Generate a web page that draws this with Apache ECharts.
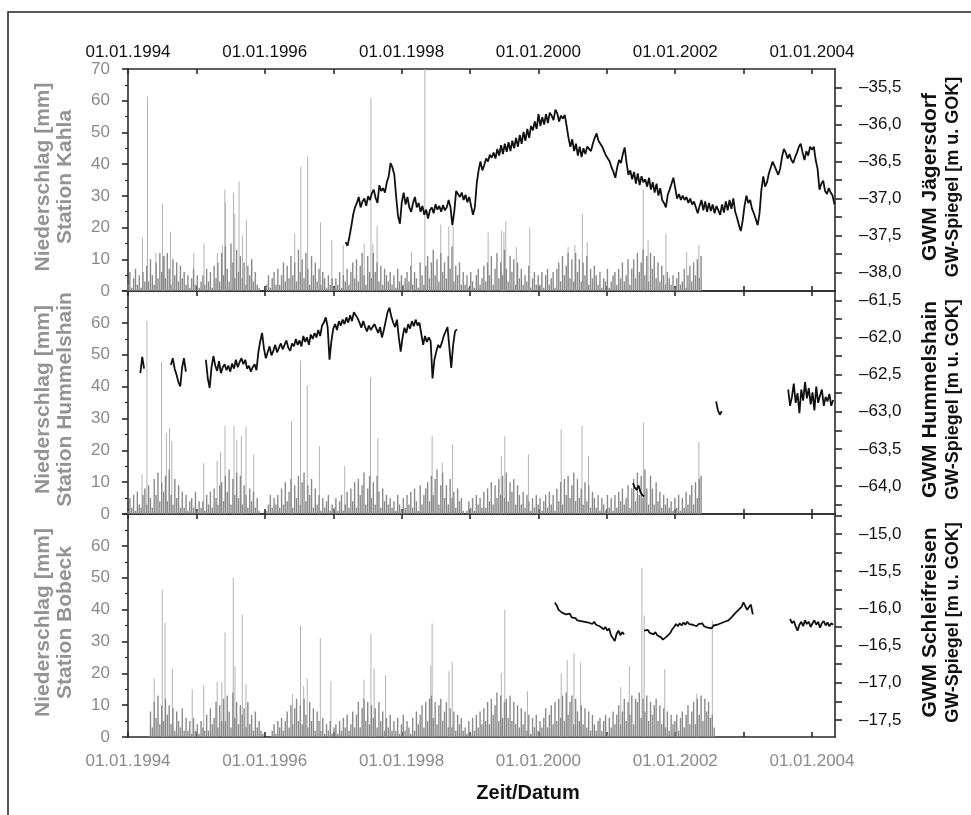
<!doctype html>
<html>
<head>
<meta charset="UTF-8">
<title>Niederschlag und GW-Spiegel</title>
<script src="https://cdn.jsdelivr.net/npm/echarts@6.0.0/dist/echarts.min.js"></script>
<style>
html, body { margin: 0; padding: 0; background: #fff; }
#chart { width: 971px; height: 815px; }
</style>
</head>
<body>
<div id="chart"></div>
<script>
// ---- Daten ----
var STEP_DAYS = 10; // Raster der Reihen: alle 10 Tage ein Wert

var tickYears = [1994, 1995, 1996, 1997, 1998, 1999, 2000, 2001, 2002, 2003, 2004];
var labelYears = [1994, 1996, 1998, 2000, 2002, 2004];

// Niederschlag Station Kahla [mm], ab 01.01.1994
var kahlaStart = '1994-01-01';
var kahlaRain = [
  2,6,1,4,7,2,5,1,6,3, 8,3,10,5,2,9,4,12,6,11, 4,12,7,2,10,5,9,3,8,4, 6,2,5,1,4,7,2,5,1,3,
  5,2,7,3,6,1,8,4,9,3, 12,5,14,7,3,15,9,4,13,6, 11,4,9,2,8,5,10,3,6,2, 1,0,0,0,2,5,1,4,6,2,
  7,2,5,9,3,8,4,11,5,9, 3,13,6,10,4,12,7,2,11,5, 9,3,7,2,6,4,1,5,2,4, 1,4,2,6,1,5,3,7,2,6,
  9,4,10,3,8,12,5,2,11,6, 4,12,6,9,3,8,2,7,5,3, 6,2,5,1,7,3,5,2,4,6, 3,8,2,6,4,1,9,5,2,8,
  11,4,9,13,5,10,3,12,6,9, 4,11,7,14,3,8,5,9,2,6, 2,5,1,6,3,1,5,7,2,4, 8,3,9,5,11,2,7,12,4,9,
  5,13,7,3,11,6,10,2,9,4, 7,2,5,3,8,1,4,6,2,5, 2,6,1,5,7,2,4,6,1,7, 9,3,11,5,8,12,4,10,3,12,
  6,10,3,9,5,11,2,7,4,8, 5,2,6,1,4,3,7,1,3,5, 6,2,7,4,9,3,5,10,2,7, 10,4,12,6,9,13,5,11,3,12,
  7,11,4,9,3,8,5,2,6,4, 2,5,1,4,6,2,3,7,1,5, 8,3,9,5,10,4,11
];
var kahlaPeaks = [
  ['1994-03-19', 16.7], ['1994-04-15', 61.3], ['1994-05-30', 12], ['1994-07-04', 27.5],
  ['1994-07-16', 11], ['1994-08-16', 18.7], ['1994-12-18', 12], ['1995-02-11', 15],
  ['1995-04-23', 12], ['1995-05-20', 14.5], ['1995-06-02', 32], ['1995-06-06', 28],
  ['1995-07-18', 31], ['1995-07-25', 24.3], ['1995-08-17', 34.5], ['1995-09-04', 17.5],
  ['1995-09-25', 22.5], ['1995-10-24', 10], ['1996-06-09', 18], ['1996-07-12', 39.2],
  ['1996-08-17', 42.5], ['1996-10-25', 21.7], ['1996-12-24', 16], ['1997-02-23', 14.5],
  ['1997-06-15', 14.8], ['1997-07-21', 60.9], ['1997-07-31', 15], ['1997-08-23', 20.6],
  ['1998-02-23', 12.4], ['1998-05-05', 75], ['1998-07-29', 21], ['1998-09-10', 20.3],
  ['1998-10-03', 20.6], ['1999-04-08', 18.5], ['1999-06-18', 19], ['1999-07-01', 18.5],
  ['1999-07-11', 21.9], ['1999-09-06', 13.8], ['1999-11-16', 20], ['2000-06-08', 13.8],
  ['2000-07-14', 14.5], ['2000-08-23', 24.3], ['2000-09-18', 15.4], ['2001-07-14', 32.2],
  ['2001-08-09', 15.9], ['2001-11-12', 18], ['2002-03-03', 12.2], ['2002-05-07', 14.5]
];

// Niederschlag Station Hummelshain [mm], ab 01.01.1994
var hummelStart = '1994-01-01';
var hummelRain = [
  1,5,2,6,1,7,3,2,6,8, 3,9,5,2,11,6,13,4,10,7, 12,4,14,6,3,11,5,9,2,7, 2,6,1,4,5,2,7,1,4,2,
  4,1,6,3,7,2,8,5,3,9, 10,4,12,7,14,3,11,6,13,5, 12,3,9,6,2,8,4,7,2,5, 1,0,0,0,1,3,6,2,5,3,
  6,2,8,3,10,4,7,11,2,9, 5,12,3,10,13,4,9,6,11,2, 8,3,6,1,5,2,4,6,1,3, 2,5,1,4,6,1,3,7,2,8,
  4,10,2,11,6,9,13,3,8,12, 5,10,3,12,7,2,8,4,6,3, 5,2,4,1,6,3,1,5,2,6, 3,7,2,8,4,1,9,3,6,8,
  10,4,12,6,11,14,3,9,13,5, 9,3,11,5,7,2,8,4,5,1, 0,1,4,2,5,1,6,3,5,2, 7,2,8,4,10,3,9,5,11,6,
  12,5,13,4,10,7,11,3,9,6, 3,7,2,6,4,1,5,2,6,3, 5,1,4,6,2,7,3,6,1,8, 4,10,3,11,6,12,5,9,13,4,
  11,5,8,3,10,4,9,2,7,5, 2,6,1,5,3,1,6,2,5,1, 6,2,7,4,8,3,5,9,2,8, 11,4,13,6,12,5,14,8,3,12,
  8,3,10,4,7,2,6,3,5,2, 4,1,5,2,6,1,5,2,7,3, 6,9,3,10,5,11,12
];
var hummelPeaks = [
  ['1994-03-17', 12.5], ['1994-04-12', 60.6], ['1994-06-29', 47.7], ['1994-07-25', 25.4],
  ['1994-08-11', 27], ['1994-08-23', 22.9], ['1995-02-09', 16], ['1995-04-22', 16.7],
  ['1995-05-10', 19.4], ['1995-06-03', 27.7], ['1995-07-21', 27.7], ['1995-08-05', 23.4],
  ['1995-08-29', 24.4], ['1995-09-23', 27.5], ['1995-11-03', 18.7], ['1996-05-23', 29.1],
  ['1996-07-10', 48.2], ['1996-08-15', 40.4], ['1996-10-19', 21.3], ['1997-03-03', 15.1],
  ['1997-07-19', 43], ['1997-08-27', 23.9], ['1998-06-13', 24.6], ['1998-08-06', 16.1],
  ['1998-09-30', 21.8], ['1999-06-17', 18.2], ['1999-07-06', 24.4], ['1999-11-09', 18.7],
  ['2000-05-02', 26.7], ['2000-08-21', 27.7], ['2000-09-25', 18.2], ['2001-07-15', 28.6],
  ['2002-05-07', 22.6]
];

// Niederschlag Station Bobeck [mm], ab 01.05.1994
var bobeckStart = '1994-05-01';
var bobeckRain = [
  8,3,11,6,13,4,10,5,12,7, 10,4,9,2,8,5,3,9,2,6, 2,5,1,6,2,4,1,5,3,2, 7,2,9,4,6,11,3,10,5,12,
  5,13,8,3,14,6,11,4,10,7, 9,3,11,4,7,2,8,3,5,2, 1,0,0,0,0,2,4,1,5,3, 6,2,5,8,3,10,4,9,12,5,
  10,4,12,7,3,11,5,9,2,8, 5,2,6,1,4,2,5,1,3,4, 1,5,2,6,3,7,2,4,8,3, 7,11,3,9,12,5,11,4,10,6,
  9,3,11,5,8,2,6,3,7,2, 5,2,6,1,4,7,2,5,3,1, 6,2,8,4,7,10,3,11,5,12, 13,6,11,4,10,12,5,8,11,3,
  9,3,8,2,7,4,6,2,3,1, 5,1,6,2,7,3,8,4,9,5, 11,4,12,7,10,14,5,13,6,11, 12,6,13,5,11,4,10,3,9,4,
  8,2,7,1,6,3,7,2,5,3, 6,9,3,7,10,4,11,5,12,6, 13,5,14,7,11,13,4,12,8,5, 10,4,9,3,8,2,7,4,2,5,
  6,2,5,7,1,6,3,8,4,7, 10,4,8,12,5,11,7,13,4,12, 11,14,6,12,8,13,5,11,7,10, 12,5,10,4,9,3,8,2,7,4,
  5,7,2,6,8,3,7,10,4,8, 11,4,12,7,13,5,12,8,11,6, 7,3
];
var bobeckPeaks = [
  ['1994-05-21', 18.4], ['1994-07-03', 46.2], ['1994-07-18', 35.9], ['1994-08-26', 21.2],
  ['1994-12-10', 15], ['1995-02-09', 16.2], ['1995-04-22', 17.3], ['1995-05-17', 17.2],
  ['1995-06-03', 32.8], ['1995-07-17', 50], ['1995-07-26', 22.2], ['1995-09-03', 38.4],
  ['1995-09-23', 16.5], ['1996-05-28', 13.4], ['1996-07-10', 35], ['1996-07-27', 16],
  ['1996-08-15', 18.4], ['1996-10-24', 31.1], ['1996-12-19', 17.5], ['1997-06-14', 18],
  ['1997-07-21', 32.4], ['1997-08-07', 21.6], ['1997-10-07', 19.4], ['1998-06-06', 22.5],
  ['1998-06-13', 35.6], ['1998-09-11', 20.6], ['1998-09-28', 23.7], ['1999-06-17', 20.1],
  ['1999-07-06', 40], ['1999-11-04', 14.4], ['2000-05-02', 19.9], ['2000-06-03', 24.2],
  ['2000-07-09', 26.3], ['2000-08-14', 23.4], ['2001-03-16', 15.7], ['2001-05-01', 22.2],
  ['2001-07-07', 53.1], ['2001-07-19', 38.1], ['2001-11-06', 21.3], ['2002-04-26', 13.6],
  ['2002-07-18', 36.6]
];

// GW-Spiegel [m u. GOK], Abschnitte: [Startdatum, Werte im 10-Tage-Raster]
var jaegSegs = [
  ['1997-03-08', [
    -37.59,-37.64,-37.52,-37.38,-37.22,-37.12,-37.06,-36.98,-37.12,-37.04,
    -37.00,-37.10,-36.97,-37.02,-36.93,-36.88,-36.99,-37.06,-36.82,-36.90,
    -36.86,-36.92,-36.78,-36.70,-36.52,-36.58,-36.68,-36.98,-37.24,-37.34,
    -37.05,-36.92,-37.08,-36.98,-37.12,-37.18,-37.06,-36.98,-37.12,-37.06,
    -37.18,-37.10,-37.22,-37.15,-37.27,-37.16,-37.12,-37.20,-37.08,-37.15,
    -37.10,-37.18,-37.09,-37.16,-37.12,-37.02,-37.12,-37.36,-37.18,-36.90,
    -36.88,-36.98,-36.92,-37.02,-36.95,-37.05,-36.98,-37.10,-37.22,-37.12,
    -36.80,-36.62,-36.50,-36.62,-36.55,-36.46,-36.50,-36.41,-36.45,-36.38,
    -36.46,-36.33,-36.42,-36.28,-36.40,-36.26,-36.37,-36.24,-36.36,-36.22,
    -36.32,-36.18,-36.30,-36.14,-36.26,-36.10,-36.22,-36.06,-36.18,-36.02,
    -36.08,-35.96,-36.06,-35.86,-36.02,-35.90,-36.00,-35.86,-35.98,-35.84,
    -35.88,-35.94,-35.80,-35.85,-35.96,-35.88,-35.92,-35.87,-36.02,-36.18,
    -36.30,-36.20,-36.36,-36.26,-36.42,-36.30,-36.44,-36.32,-36.40,-36.30,
    -36.30,-36.36,-36.26,-36.18,-36.12,-36.22,-36.26,-36.30,-36.36,-36.42,
    -36.44,-36.50,-36.58,-36.64,-36.72,-36.58,-36.48,-36.52,-36.40,-36.31,
    -36.52,-36.68,-36.62,-36.74,-36.64,-36.80,-36.66,-36.82,-36.70,-36.78,
    -36.74,-36.84,-36.72,-36.88,-36.78,-36.92,-36.80,-36.96,-36.86,-37.02,
    -37.06,-37.12,-36.95,-36.88,-36.80,-36.72,-36.86,-37.00,-36.94,-37.02,
    -36.96,-37.02,-36.98,-37.06,-37.00,-37.08,-37.04,-37.12,-37.20,-37.10,
    -37.02,-37.16,-37.04,-37.18,-37.06,-37.17,-37.08,-37.20,-37.10,-37.16,
    -37.22,-37.08,-37.19,-37.04,-37.16,-37.02,-37.14,-37.00,-37.18,-37.26,
    -37.36,-37.44,-37.30,-37.10,-36.96,-37.06,-37.02,-37.14,-37.20,-37.28,
    -37.36,-37.20,-36.88,-36.70,-36.84,-36.78,-36.66,-36.58,-36.50,-36.56,
    -36.62,-36.68,-36.60,-36.44,-36.33,-36.38,-36.46,-36.40,-36.48,-36.52,
    -36.44,-36.38,-36.30,-36.26,-36.38,-36.48,-36.36,-36.42,-36.30,-36.34,
    -36.30,-36.48,-36.60,-36.88,-36.80,-36.76,-36.90,-36.94,-36.86,-36.92,
    -36.96,-37.08
  ]]
];
var hummelSegs = [
  ['1994-03-08', [-62.48,-62.26,-62.42]],
  ['1994-08-18', [-62.37,-62.28,-62.42,-62.50,-62.60,-62.66,-62.40,-62.28,-62.46]],
  ['1995-02-21', [
    -62.30,-62.55,-62.68,-62.40,-62.25,-62.38,-62.45,-62.32,-62.48,-62.40,
    -62.36,-62.44,-62.38,-62.46,-62.35,-62.42,-62.30,-62.40,-62.33,-62.28,
    -62.36,-62.30,-62.42,-62.38,-62.46,-62.40,-62.36,-62.44,-62.20,-62.05,
    -61.94,-62.15,-62.28,-62.20,-62.12,-62.24,-62.18,-62.10,-62.20,-62.14,
    -62.08,-62.16,-62.10,-62.04,-62.14,-62.18,-62.08,-62.12,-62.02,-62.10,
    -62.04,-62.12,-61.98,-62.06,-62.00,-62.10,-61.96,-62.02,-61.94,-62.00,
    -61.90,-61.98,-61.84,-61.80,-61.73,-61.86,-62.30,-62.05,-61.88,-61.82,
    -61.90,-61.78,-61.84,-61.76,-61.82,-61.73,-61.80,-61.70,-61.78,-61.66,
    -61.65,-61.74,-61.80,-61.87,-61.78,-61.86,-61.92,-61.84,-61.90,-61.86,
    -61.82,-61.88,-61.94,-61.86,-62.00,-61.90,-61.78,-61.66,-61.60,-61.72,
    -61.80,-61.86,-61.76,-62.00,-62.19,-62.00,-61.87,-61.94,-61.82,-61.88,
    -61.78,-61.85,-61.76,-61.84,-61.80,-61.95,-62.10,-61.98,-62.06,-62.00,
    -62.05,-62.55,-62.30,-62.19,-62.10,-62.14,-62.07,-61.98,-61.92,-61.86,
    -61.85,-62.41,-62.10,-61.92,-61.89
  ]],
  ['2001-05-20', [-63.96,-64.02,-64.05,-63.99,-64.08,-64.12,-64.14]],
  ['2002-08-07', [-62.86,-62.98,-63.04,-62.99]],
  ['2003-08-27', [
    -62.70,-62.92,-62.80,-62.62,-62.88,-62.75,-63.02,-62.70,-62.85,-62.60,
    -62.82,-62.68,-62.90,-62.74,-62.98,-62.66,-62.88,-62.78,-62.70,-62.92,
    -62.80,-62.86,-62.76,-62.92,-62.84
  ]]
];
var schleifSegs = [
  ['2000-03-29', [
    -15.92,-15.96,-16.02,-16.04,-16.06,-16.05,-16.08,-16.10,-16.07,-16.12,
    -16.10,-16.13,-16.16,-16.14,-16.17,-16.15,-16.18,-16.16,-16.19,-16.17,
    -16.21,-16.18,-16.22,-16.20,-16.24,-16.22,-16.28,-16.25,-16.30,-16.27,
    -16.36,-16.40,-16.44,-16.34,-16.30,-16.36,-16.32,-16.35
  ]],
  ['2001-07-19', [
    -16.30,-16.32,-16.29,-16.33,-16.31,-16.35,-16.32,-16.36,-16.34,-16.39,
    -16.42,-16.44,-16.38,-16.40,-16.33,-16.28,-16.25,-16.21,-16.24,-16.20,
    -16.23,-16.19,-16.22,-16.18,-16.21,-16.19,-16.22,-16.20,-16.24,-16.21,
    -16.23,-16.20,-16.24,-16.22,-16.26,-16.24,-16.27,-16.23,-16.25,-16.22,
    -16.24,-16.20,-16.22,-16.18,-16.20,-16.16,-16.14,-16.11,-16.08,-16.06,
    -16.03,-16.05,-15.98,-15.92,-15.97,-16.02,-15.98,-15.95,-16.08
  ]],
  ['2003-09-06', [
    -16.14,-16.20,-16.17,-16.24,-16.30,-16.22,-16.18,-16.24,-16.16,-16.21,
    -16.18,-16.25,-16.20,-16.16,-16.22,-16.18,-16.26,-16.20,-16.17,-16.23,
    -16.19,-16.24,-16.20,-16.22
  ]]
];

// Achsbeschriftungen rechts
var jaegLabels = [-38.0, -37.5, -37.0, -36.5, -36.0, -35.5];
var hummelLabels = [-64.0, -63.5, -63.0, -62.5, -62.0, -61.5];
var schleifLabels = [-17.5, -17.0, -16.5, -16.0, -15.5, -15.0];

// ---- Hilfsfunktionen ----
var DAY = 86400000;
function ts(s) {
  var p = s.split('-');
  return Date.UTC(+p[0], +p[1] - 1, +p[2]);
}
function stepSeries(start, values) {
  var t0 = ts(start);
  return values.map(function (v, i) { return [t0 + i * STEP_DAYS * DAY, v]; });
}
function segSeries(segs) {
  var out = [];
  segs.forEach(function (s, j) {
    if (j > 0) out.push([ts(s[0]) - DAY, '-']); // Luecke
    out = out.concat(stepSeries(s[0], s[1]));
  });
  return out;
}
function peakSeries(list) {
  return list.map(function (p) { return [ts(p[0]), p[1]]; });
}
function withQuarters(labels, lo, hi) {
  var out = [];
  labels.forEach(function (v) {
    [v - 0.25, v, v + 0.25].forEach(function (t) {
      if (t > lo && t < hi && out.indexOf(t) < 0) out.push(t);
    });
  });
  return out;
}
function fmtGw(v) {
  return '\u2013' + Math.abs(v).toFixed(1).replace('.', ',');
}
function fmtDate(v) {
  return '01.01.' + new Date(v).getUTCFullYear();
}

var X_MIN = ts('1994-01-01');
var X_MAX = ts('2004-05-03');
var yearTickValues = tickYears.map(function (y) { return Date.UTC(y, 0, 1); });
var yearLabelValues = labelYears.map(function (y) { return Date.UTC(y, 0, 1); });

var FONT = 'Liberation Sans';
var AXIS_COLOR = '#2a2a2a';
var GRAY_TEXT = '#8a8a8a';

var panels = [
  { top: 69, height: 222, rain: stepSeries(kahlaStart, kahlaRain), peaks: peakSeries(kahlaPeaks),
    gw: segSeries(jaegSegs), gwMin: -38.25, gwMax: -35.25, gwLabels: jaegLabels,
    left1: 'Niederschlag [mm]', left2: 'Station Kahla', right1: 'GWM J\u00e4gersdorf' },
  { top: 291, height: 223, rain: stepSeries(hummelStart, hummelRain), peaks: peakSeries(hummelPeaks),
    gw: segSeries(hummelSegs), gwMin: -64.375, gwMax: -61.375, gwLabels: hummelLabels,
    left1: 'Niederschlag [mm]', left2: 'Station Hummelshain', right1: 'GWM Hummelshain' },
  { top: 514, height: 223, rain: stepSeries(bobeckStart, bobeckRain), peaks: peakSeries(bobeckPeaks),
    gw: segSeries(schleifSegs), gwMin: -17.73, gwMax: -14.73, gwLabels: schleifLabels,
    left1: 'Niederschlag [mm]', left2: 'Station Bobeck', right1: 'GWM Schleifreisen' }
];

var grids = [], xAxes = [], yAxes = [], series = [], graphics = [];

graphics.push({
  type: 'rect', silent: true,
  shape: { x: 8, y: 12, width: 1000, height: 900 },
  style: { fill: 'none', stroke: '#222', lineWidth: 1.5 }
});

panels.forEach(function (p, k) {
  grids.push({ left: 128, right: 136, top: p.top, height: p.height });

  var lineStyle = { color: AXIS_COLOR, width: 1.6 };
  // untere Zeitachse (Millisekunden als Wertachse)
  xAxes.push({
    gridIndex: k, type: 'value', position: 'bottom', min: X_MIN, max: X_MAX,
    axisLine: { lineStyle: lineStyle },
    axisTick: { show: true, inside: true, length: 5, customValues: yearTickValues, lineStyle: lineStyle },
    axisLabel: k === 2
      ? { show: true, customValues: yearLabelValues, formatter: fmtDate, color: GRAY_TEXT,
          fontSize: 17, fontFamily: FONT, margin: 16 }
      : { show: false },
    splitLine: { show: false }
  });
  // obere Zeitachse
  xAxes.push({
    gridIndex: k, type: 'value', position: 'top', min: X_MIN, max: X_MAX,
    axisLine: { lineStyle: lineStyle },
    axisTick: { show: true, inside: true, length: 5, customValues: yearTickValues, lineStyle: lineStyle },
    axisLabel: k === 0
      ? { show: true, customValues: yearLabelValues, formatter: fmtDate, color: '#111',
          fontSize: 17, fontFamily: FONT, margin: 8 }
      : { show: false },
    splitLine: { show: false }
  });
  // Niederschlag links
  yAxes.push({
    gridIndex: k, type: 'value', position: 'left', min: 0, max: 70, interval: 10,
    axisLine: { show: true, lineStyle: lineStyle },
    axisTick: { show: true, length: 6, lineStyle: lineStyle },
    minorTick: { show: true, splitNumber: 2, length: 3, lineStyle: { color: AXIS_COLOR, width: 1.2 } },
    axisLabel: {
      color: GRAY_TEXT, fontSize: 17, fontFamily: FONT, margin: 18,
      formatter: function (v) { return (k > 0 && v === 70) ? '' : String(v); }
    },
    splitLine: { show: false }
  });
  // GW-Spiegel rechts
  yAxes.push({
    gridIndex: k, type: 'value', position: 'right', min: p.gwMin, max: p.gwMax,
    axisLine: { show: true, lineStyle: lineStyle },
    axisTick: { show: true, length: 7, customValues: withQuarters(p.gwLabels, p.gwMin, p.gwMax), lineStyle: lineStyle },
    axisLabel: { color: '#111', fontSize: 17, fontFamily: FONT, margin: 24,
      customValues: p.gwLabels, formatter: fmtGw },
    splitLine: { show: false }
  });

  series.push({
    type: 'bar', xAxisIndex: 2 * k + 1, yAxisIndex: 2 * k, data: p.peaks,
    barWidth: 1, itemStyle: { color: '#b3b3b3' }, z: 1, clip: true, silent: true
  });
  series.push({
    type: 'bar', xAxisIndex: 2 * k, yAxisIndex: 2 * k, data: p.rain,
    barWidth: 1.4, itemStyle: { color: '#8a8a8a' }, z: 2, clip: true, silent: true
  });
  series.push({
    type: 'line', xAxisIndex: 2 * k + 1, yAxisIndex: 2 * k + 1, data: p.gw,
    showSymbol: false, connectNulls: false, z: 3, clip: true, silent: true,
    lineStyle: { color: '#111', width: 1.8 }
  });

  // Achsentitel (gedreht)
  var cy = p.top + p.height / 2 - 3;
  graphics.push({ type: 'text', x: 43, y: cy, rotation: Math.PI / 2, silent: true,
    style: { text: p.left1, font: 'bold 21px "' + FONT + '"', fill: '#939393', align: 'center', verticalAlign: 'middle' } });
  graphics.push({ type: 'text', x: 65, y: cy, rotation: Math.PI / 2, silent: true,
    style: { text: p.left2, font: 'bold 21px "' + FONT + '"', fill: '#939393', align: 'center', verticalAlign: 'middle' } });
  graphics.push({ type: 'text', x: 930, y: cy, rotation: Math.PI / 2, silent: true,
    style: { text: p.right1, font: 'bold 21px "' + FONT + '"', fill: '#111', align: 'center', verticalAlign: 'middle' } });
  graphics.push({ type: 'text', x: 953, y: cy, rotation: Math.PI / 2, silent: true,
    style: { text: 'GW-Spiegel [m u. GOK]', font: 'bold 18px "' + FONT + '"', fill: '#111', align: 'center', verticalAlign: 'middle' } });
});

graphics.push({ type: 'text', x: 528, y: 793, silent: true,
  style: { text: 'Zeit/Datum', font: 'bold 20px "' + FONT + '"', fill: '#111', align: 'center', verticalAlign: 'middle' } });

var myChart = echarts.init(document.getElementById('chart'), null, { renderer: 'canvas' });
myChart.setOption({
  animation: false,
  backgroundColor: '#fff',
  textStyle: { fontFamily: FONT },
  grid: grids,
  xAxis: xAxes,
  yAxis: yAxes,
  series: series,
  graphic: graphics
});
</script>
</body>
</html>
